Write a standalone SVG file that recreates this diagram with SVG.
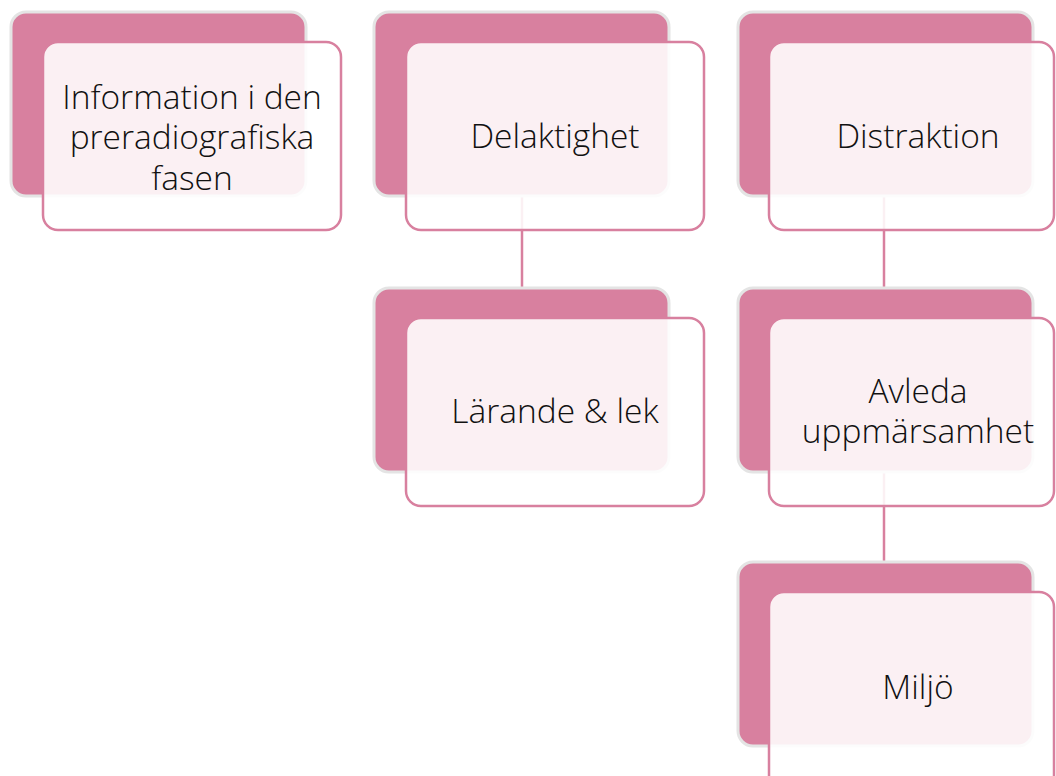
<svg xmlns="http://www.w3.org/2000/svg" width="1056" height="776" viewBox="0 0 1056 776">
<style>
.back{fill:#d8809f;stroke:#e4e4e4;stroke-width:3}
.front{fill:#ffffff;fill-opacity:0.88;stroke:#d8809f;stroke-width:2.5}
.conn{stroke:#d8809f;stroke-width:2.5;fill:none}
text{font-family:"Open Sans","Liberation Sans",sans-serif;font-size:33.5px;font-weight:300;fill:#111;text-anchor:middle}
</style>
<rect width="1056" height="776" fill="#ffffff"/>
<g id="connectors">
<line class="conn" x1="522" y1="196" x2="522" y2="288"/>
<line class="conn" x1="884" y1="196" x2="884" y2="288"/>
<line class="conn" x1="884" y1="471" x2="884" y2="562"/>
</g>
<g id="node-information">
<rect class="back" x="11" y="12" width="295" height="184" rx="15"/>
<rect class="front" x="43" y="42" width="298" height="188" rx="15"/>
<text x="192" y="109">Information i den</text>
<text x="192" y="149">preradiografiska</text>
<text x="192" y="190">fasen</text>
</g>
<g id="node-delaktighet">
<rect class="back" x="374" y="12" width="295" height="184" rx="15"/>
<rect class="front" x="406" y="42" width="298" height="188" rx="15"/>
<text x="555" y="148">Delaktighet</text>
</g>
<g id="node-distraktion">
<rect class="back" x="738" y="12" width="295" height="184" rx="15"/>
<rect class="front" x="769" y="42" width="285" height="188" rx="15"/>
<text x="918" y="148">Distraktion</text>
</g>
<g id="node-larande">
<rect class="back" x="374" y="288" width="295" height="184" rx="15"/>
<rect class="front" x="406" y="318" width="298" height="188" rx="15"/>
<text x="555" y="423">Lärande &amp; lek</text>
</g>
<g id="node-avleda">
<rect class="back" x="738" y="288" width="295" height="184" rx="15"/>
<rect class="front" x="769" y="318" width="285" height="188" rx="15"/>
<text x="918" y="403">Avleda</text>
<text x="918" y="443">uppmärsamhet</text>
</g>
<g id="node-miljo">
<rect class="back" x="738" y="562" width="295" height="184" rx="15"/>
<rect class="front" x="769" y="592" width="285" height="200" rx="15"/>
<text x="918" y="699">Miljö</text>
</g>
</svg>
